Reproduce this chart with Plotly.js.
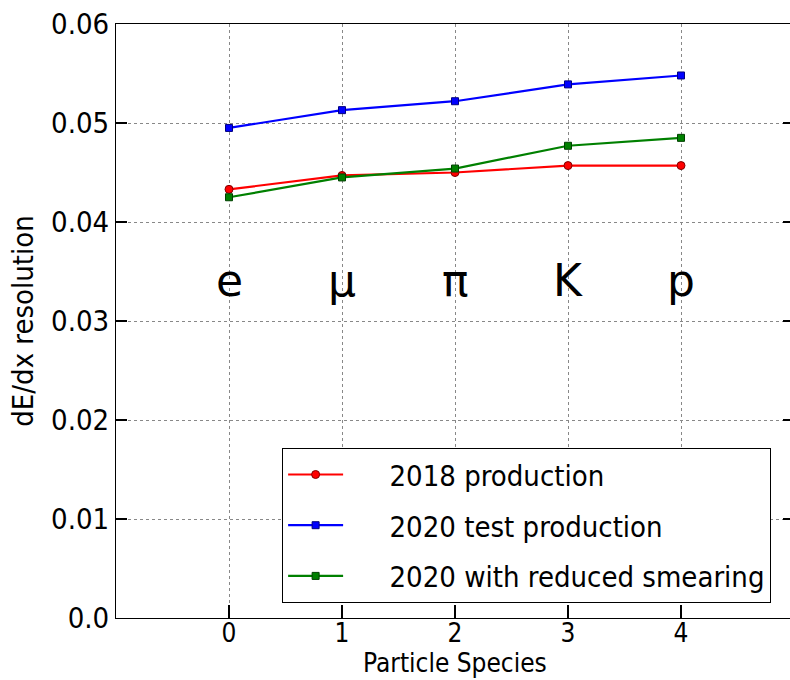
<!DOCTYPE html>
<html><head><meta charset="utf-8">
<script src="https://cdn.plot.ly/plotly-3.0.1.min.js"></script>
<style>html,body{margin:0;padding:0;overflow:hidden;background:#fff}#chart{width:794px;height:680px}</style>
</head><body><div id="chart"></div>
<script>
const species = [0, 1, 2, 3, 4];
const speciesLabels = ["e", "μ", "π", "K", "p"];
const seriesNames = ["2018 production", "2020 test production", "2020 with reduced smearing"];
const prod2018 = [0.0433, 0.0447, 0.0450, 0.0457, 0.0457];
const test2020 = [0.0495, 0.0513, 0.0522, 0.0539, 0.0548];
const reduced2020 = [0.0425, 0.0445, 0.0454, 0.0477, 0.0485];
const yTickVals = [0, 0.01, 0.02, 0.03, 0.04, 0.05, 0.06];
const yTickText = ["0.0", "0.01", "0.02", "0.03", "0.04", "0.05", "0.06"];
const xTitle = "Particle Species";
const yTitle = "dE/dx resolution";
const labelY = 0.0341;

const FONT = "Liberation Sans Narrow, DejaVu Sans Condensed, sans-serif";
const pad = "\u00a0\u00a0\u00a0\u00a0\u00a0";

const traces = [
  {x: species, y: prod2018, name: pad + seriesNames[0], legendgroup: "a", mode: "lines+markers",
   line: {color: "#ff0000", width: 2.2}, marker: {symbol: "circle", size: 8, color: "#ff0000", line: {color: "#800000", width: 1}}},
  {x: species, y: test2020, name: pad + seriesNames[1], legendgroup: "b", mode: "lines+markers",
   line: {color: "#0000ff", width: 2.2}, marker: {symbol: "square", size: 7, color: "#0000ff", line: {color: "#000080", width: 1}}},
  {x: species, y: reduced2020, name: pad + seriesNames[2], legendgroup: "c", mode: "lines+markers",
   line: {color: "#008000", width: 2.2}, marker: {symbol: "square", size: 7, color: "#008000", line: {color: "#004000", width: 1}}}
];

const annotations = species.map((s, i) => ({
  x: s, y: labelY, xref: "x", yref: "y", text: speciesLabels[i], showarrow: false,
  font: {family: "DejaVu Sans, sans-serif", size: 44, color: "#000"}
}));
annotations.push({
  x: 0.5, y: 0, xref: "paper", yref: "paper", xanchor: "center", yanchor: "bottom",
  yshift: -61, borderpad: 0, text: xTitle, showarrow: false,
  font: {family: FONT, size: 26, color: "#000"}
});

const layout = {
  width: 794, height: 680,
  margin: {l: 116, r: 0, t: 24, b: 62},
  paper_bgcolor: "#fff", plot_bgcolor: "#fff",
  font: {family: FONT, size: 29, color: "#000"},
  showlegend: true,
  legend: {x: 0.245, y: 0.025, xanchor: "left", yanchor: "bottom", bgcolor: "#fff",
           bordercolor: "#000", borderwidth: 1, font: {family: FONT, size: 29},
           traceorder: "grouped", tracegroupgap: 10, itemwidth: 55},
  xaxis: {range: [-1, 5], tickvals: species, ticktext: species.map(String),
          showline: true, linecolor: "#000", linewidth: 1, mirror: true,
          ticks: "inside", ticklen: 13, tickwidth: 2, tickcolor: "#000",
          showgrid: true, gridcolor: "#888", griddash: "dot", gridwidth: 1, zeroline: false,
          ticklabelstandoff: -8,
          tickfont: {family: FONT, size: 26}},
  yaxis: {range: [0, 0.06], tickvals: yTickVals, ticktext: yTickText,
          showline: true, linecolor: "#000", linewidth: 1, mirror: "ticks",
          ticks: "inside", ticklen: 11, tickwidth: 2, tickcolor: "#000",
          showgrid: true, gridcolor: "#888", griddash: "dot", gridwidth: 1, zeroline: false,
          title: {text: yTitle, font: {family: FONT, size: 29}, standoff: 8},
          tickfont: {family: FONT, size: 29}},
  annotations: annotations
};

Plotly.newPlot("chart", traces, layout, {displayModeBar: false, staticPlot: true});
</script></body></html>
